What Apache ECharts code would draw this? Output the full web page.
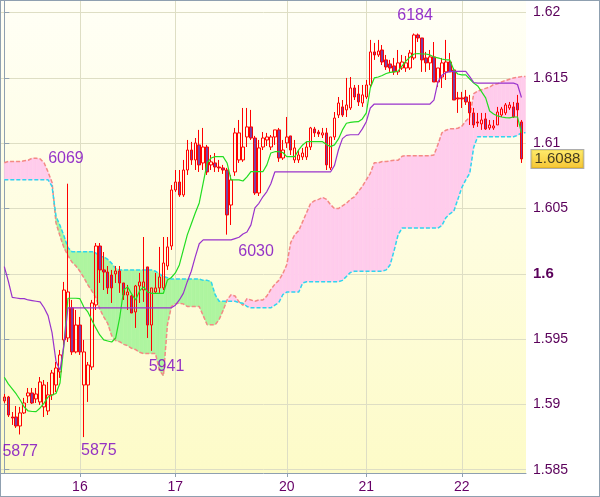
<!DOCTYPE html>
<html><head><meta charset="utf-8">
<script src="https://cdn.jsdelivr.net/npm/echarts@6/dist/echarts.min.js"></script>
<style>
html,body{margin:0;padding:0;background:#fff;}
#wrap{width:600px;height:497px;box-sizing:border-box;border:1px solid #8fa0b0;}
#c{width:598px;height:495px;}
</style></head><body><div id="wrap"><div id="c"></div></div>
<script>
// x-axis day ticks (candle index where each day starts) and their labels
const dayTickIndex = [19, 43, 71, 91, 115];
const dayLabels = ['16', '17', '20', '21', '22'];
// y-axis tick labels
const priceTicks = [1.585, 1.59, 1.595, 1.6, 1.605, 1.61, 1.615, 1.62];

// candles, in pips (price = 1 + pips/10000)
const openP = [
5902.7,5905.7,5890.4,5890.4,5883.5,5893.5,5906.5,5908.8,5904.2,5901.9,
5898.1,5895.0,5907.3,5914.9,5924.9,5949.4,5950.9,5973.9,5940.2,5960.8,
5914.9,5914.9,5928.7,5976.2,6021.3,6003.0,6001.4,5999.1,5999.9,6002.2,
5993.0,5983.8,5983.1,5970.8,5990.7,5987.6,6005.3,5960.8,5986.1,5989.2,
5989.2,6006.0,6021.3,6064.2,6070.3,6060.4,6079.5,6094.8,6087.2,6098.7,
6084.9,6097.1,6083.4,6084.9,6081.8,6081.1,6079.5,6052.7,6078.0,6087.2,
6087.2,6104.8,6112.5,6104.0,6061.9,6097.1,6102.5,6097.1,6104.8,6110.2,
6088.7,6100.2,6105.6,6087.2,6087.2,6089.5,6089.5,6097.1,6110.9,6108.6,
6106.3,6107.9,6081.1,6104.8,6121.6,6127.8,6125.5,6127.0,6142.3,6137.7,
6130.8,6135.4,6144.6,6169.9,6167.6,6171.4,6163.8,6160.7,6159.2,6154.6,
6157.6,6157.6,6157.6,6165.3,6182.9,6180.6,6165.3,6161.5,6166.1,6146.9,
6150.7,6154.6,6162.2,6156.1,6134.7,6134.7,6135.4,6131.6,6123.2,6116.3,
6114.8,6118.6,6111.7,6111.7,6114.0,6121.6,6123.2,6127.0,6127.8,6130.8,
6116.3];
const closeP = [
5905.7,5891.9,5889.6,5883.5,5893.5,5901.1,5908.8,5901.1,5908.0,5917.2,
5914.9,5907.3,5924.1,5927.9,5937.9,5987.6,5986.1,5940.2,5960.8,5940.2,
5940.2,5930.2,5977.7,6021.3,6003.0,6001.4,5989.2,5989.2,6002.2,5993.0,
5983.8,5986.1,5970.0,5990.7,5993.8,5993.8,5960.8,5989.2,5989.2,5997.6,
6008.3,6020.6,6064.2,6070.3,6060.4,6079.5,6094.8,6087.2,6100.2,6083.4,
6097.1,6078.0,6085.7,6081.8,6081.1,6079.5,6045.1,6071.9,6107.9,6107.9,
6097.1,6112.5,6104.0,6061.9,6096.4,6104.0,6104.8,6104.8,6110.2,6088.7,
6094.8,6104.8,6094.8,6096.4,6091.0,6092.5,6097.1,6111.7,6107.9,6107.1,
6107.9,6083.4,6104.8,6119.3,6130.8,6121.6,6129.3,6142.3,6135.4,6131.6,
6137.0,6144.6,6169.9,6167.6,6170.6,6162.2,6158.4,6157.6,6154.6,6161.5,
6162.2,6161.5,6169.1,6182.9,6180.6,6163.8,6161.5,6166.1,6146.9,6157.6,
6161.5,6162.2,6154.6,6133.1,6133.9,6133.9,6131.6,6123.2,6114.0,6115.5,
6117.8,6110.9,6114.0,6113.2,6123.9,6126.2,6129.3,6129.3,6120.1,6125.5,
6088.0];
const lowP = [
5901.1,5890.4,5884.3,5882.0,5877.0,5892.7,5901.1,5900.4,5901.1,5899.6,
5890.4,5891.9,5903.4,5909.5,5920.3,5945.5,5947.8,5937.9,5939.1,5937.9,
5875.0,5901.9,5926.4,5972.3,5993.0,5987.6,5984.6,5977.7,5993.0,5985.4,
5980.0,5972.3,5970.0,5958.6,5977.7,5978.5,5950.9,5941.0,5985.4,5985.4,
5987.6,6003.0,6018.3,6062.7,6058.9,6058.9,6075.7,6083.4,6079.5,6078.0,
6079.5,6075.7,6079.5,6078.0,6078.0,6076.5,6030.0,6037.4,6075.0,6084.9,
6085.7,6097.1,6102.5,6060.4,6059.6,6094.8,6097.9,6094.8,6098.7,6085.7,
6087.2,6096.4,6091.0,6084.9,6084.9,6087.2,6087.2,6094.8,6104.8,6104.8,
6104.0,6079.5,6079.5,6102.5,6119.3,6120.1,6120.1,6125.5,6133.1,6128.5,
6127.8,6133.9,6143.1,6163.8,6166.1,6159.9,6156.1,6154.6,6152.3,6152.3,
6156.1,6154.6,6156.1,6163.8,6177.5,6154.6,6154.6,6156.1,6146.9,6143.1,
6142.3,6148.4,6154.6,6133.1,6123.2,6127.0,6129.3,6114.0,6111.7,6112.5,
6110.2,6110.2,6110.2,6110.2,6114.0,6120.1,6121.6,6125.5,6119.3,6112.5,
6084.9];
const highP = [
5908.0,5906.5,5894.2,5898.8,5898.1,5905.0,5912.6,5912.6,5912.6,5921.0,
5918.7,5917.2,5926.4,5932.5,5941.7,5993.8,6069.0,5980.0,5972.3,5967.0,
5949.4,5932.5,5980.0,6023.6,6023.6,6016.7,6006.0,6003.0,6006.0,6006.0,
5993.0,5991.5,5983.8,5991.5,6000.7,6028.2,6005.3,5989.2,6000.7,6020.6,
6028.2,6028.2,6068.0,6079.5,6079.5,6087.2,6102.5,6101.0,6104.0,6110.2,
6111.7,6098.7,6091.0,6092.5,6087.2,6083.4,6081.1,6075.7,6111.7,6117.8,
6127.0,6127.0,6125.5,6105.6,6102.5,6108.6,6107.9,6106.3,6110.2,6111.7,
6102.5,6120.1,6105.6,6102.5,6094.8,6096.4,6101.0,6112.5,6112.5,6110.2,
6111.7,6111.7,6104.8,6123.9,6135.4,6133.1,6150.0,6150.7,6144.6,6144.6,
6144.6,6148.4,6179.1,6176.8,6179.1,6175.2,6167.6,6163.8,6165.3,6171.4,
6167.6,6166.8,6171.4,6184.0,6184.0,6180.6,6169.9,6171.4,6177.5,6157.6,
6165.3,6179.1,6169.1,6157.6,6139.3,6139.3,6140.8,6137.0,6127.0,6123.2,
6123.2,6123.2,6117.8,6117.8,6127.8,6127.8,6130.8,6131.6,6131.6,6137.0,
6117.8];

// Tenkan (green) and Kijun (purple), pips, one value per candle
const tenkan = [
5920.8,5915.7,5911.9,5908.0,5903.4,5898.0,5895.0,5894.6,5894.5,5897.3,
5901.0,5905.7,5907.2,5908.4,5916.4,5946.0,5981.3,5981.3,5981.3,5981.0,
5974.6,5970.8,5964.7,5958.6,5953.2,5949.4,5948.6,5947.8,5950.9,5966.2,
5987.6,5990.0,5984.6,5980.0,5986.9,5990.0,5986.1,5985.1,5985.1,5985.1,
5985.1,5995.3,5997.2,6000.7,6006.8,6018.3,6029.8,6038.2,6046.6,6054.3,
6069.6,6084.9,6088.7,6089.7,6089.7,6089.7,6084.9,6071.9,6071.9,6071.9,
6071.1,6074.2,6078.2,6078.2,6078.2,6078.2,6083.4,6092.5,6093.5,6093.5,
6092.9,6089.7,6089.7,6089.7,6094.9,6098.7,6101.2,6101.2,6101.2,6101.2,
6101.2,6099.0,6097.4,6098.7,6103.3,6110.2,6115.3,6115.9,6116.3,6116.5,
6118.6,6123.2,6142.3,6150.0,6150.7,6151.9,6153.4,6154.2,6154.6,6155.3,
6159.2,6163.0,6166.0,6168.3,6168.7,6168.3,6168.3,6167.6,6166.0,6165.3,
6164.5,6163.8,6163.8,6156.1,6153.0,6152.3,6152.3,6149.2,6146.1,6143.9,
6139.3,6134.7,6124.7,6122.4,6120.9,6120.1,6119.6,6119.4,6120.1,6120.1,
6107.9];
const kijun = [
6005.5,5994.5,5982.0,5981.5,5981.0,5981.0,5980.0,5979.5,5979.0,5978.5,
5974.0,5968.0,5955.0,5933.0,5926.0,5946.0,5974.0,5974.0,5974.0,5974.0,
5974.0,5974.0,5974.0,5974.0,5974.0,5974.0,5974.0,5974.0,5974.0,5974.0,
5974.0,5974.0,5974.0,5974.0,5974.0,5974.0,5974.0,5974.0,5974.0,5974.0,
5974.0,5974.0,5974.0,5976.0,5980.0,5985.0,5994.0,6002.0,6013.0,6023.0,
6026.0,6026.0,6026.0,6026.0,6026.0,6026.0,6026.0,6026.0,6027.0,6028.0,
6030.5,6032.0,6037.5,6050.5,6054.0,6059.0,6063.0,6069.0,6078.0,6078.0,
6078.0,6078.0,6078.0,6078.0,6078.0,6078.0,6078.0,6078.0,6078.0,6078.0,
6078.0,6078.0,6078.0,6083.0,6095.0,6103.5,6106.0,6106.5,6106.5,6106.5,
6111.0,6116.5,6127.0,6130.0,6130.0,6130.0,6130.0,6130.0,6130.0,6130.0,
6130.0,6130.0,6130.0,6130.0,6130.0,6130.0,6130.0,6130.0,6133.0,6147.0,
6152.0,6154.0,6155.0,6155.0,6155.0,6155.0,6155.0,6151.0,6146.5,6146.0,
6146.0,6146.0,6146.0,6146.0,6146.0,6146.0,6146.0,6146.0,6146.0,6145.0,
6135.0];

// Cloud spans (pips), index 0..131: senkouA = salmon dashed, senkouB = cyan dashed
const senkouA = [
6085,6086,6086,6086,6086,6086.5,6087,6088.5,6088.5,6088,
6085,6078,6070,6039,6029,6020,6014,6009,6006,6002,
5997,5991.5,5987,5982,5973,5967,5962,5952.5,5949,5948,
5946,5945,5943,5942,5940,5939,5939,5939,5939,5926,
5922,5961,5975,5977,5977.5,5977,5975,5975,5975,5975,
5968,5961,5961,5961,5965,5972,5980,5984,5983,5978.5,
5976,5981,5980,5979,5980,5980,5983,5988,5992,5995,
6000,6007,6024,6030,6033,6040,6047,6054,6056,6057,
6058.5,6057,6053,6050,6050,6052,6054,6057,6059,6063,
6067,6072,6077,6085,6085,6086,6086,6086.5,6087,6087,
6090,6090.5,6090.5,6090.5,6090.5,6090.5,6090.5,6090.5,6091,6099,
6108,6110,6111,6111,6111.5,6113,6117,6120,6138,6140,
6141,6142,6143,6145,6145.5,6147,6148,6149,6150,6150.5,
6151,6151];
const senkouB = [
6072,6072,6072,6072,6072,6072,6072,6072,6072,6072,
6072,6072,6067,6044,6037,6029,6020,6017,6017,6017,
6017,6017,6017,6016,6013,6013,6011,6008,6004,6003,
6003,6003,6003,6003,6003,6003,6003,6003,6002,6000,
5998,5997,5996,5996,5996,5996,5996,5996,5996,5996,
5995,5995,5994,5984,5979,5979,5979,5979,5979,5978,
5977.5,5975,5974,5974,5974,5974,5974,5974,5976,5978,
5984,5986,5986,5986,5986,5993,5994,5994,5994,5994,
5994,5994,5994,5994,5994,5995,5998,6001,6002,6002,
6002,6002,6002,6002,6002,6002,6003,6007,6018,6030,
6035,6035,6035,6035,6035,6035,6035,6035,6035,6035,
6037,6043,6046,6048,6057,6066,6072,6077,6097,6105,
6105,6105,6105,6105,6105,6105,6105,6105,6105,6106,
6108,6108];

// marked highs / lows: candle index and pip value
const extremeIdx = [4, 20, 16, 37, 56, 103];
const extremePips = [5877, 5875, 6069, 5941, 6030, 6184];

const P = v => 1 + v / 10000;
const candleData = openP.map((o, i) => [i, P(o), P(closeP[i]), P(lowP[i]), P(highP[i])]);
const line = arr => arr.map((v, i) => [i, P(v)]);
const cloudSegs = [];
for (let i = 0; i < senkouA.length - 1; i++) {
  cloudSegs.push([i, P(senkouA[i]), P(senkouB[i]), P(senkouA[i + 1]), P(senkouB[i + 1])]);
}
const lastIdx = closeP.length - 1;
const lastClose = P(closeP[lastIdx]);

const labelOffsets = [[0, 17], [15, 14], [-2, -25], [15, 16], [29, 17], [1, -18]];
const extremeData = extremeIdx.map((ix, k) => ({
  value: [ix, P(extremePips[k])],
  name: String(extremePips[k]),
  label: { offset: labelOffsets[k] }
}));

const PINK = '#ffccec', GREEN = '#aef5a0';
function cloudItem(params, api) {
  const x0 = api.value(0), x1 = x0 + 1;
  const a0 = api.value(1), b0 = api.value(2), a1 = api.value(3), b1 = api.value(4);
  const d0 = a0 - b0, d1 = a1 - b1;
  const poly = (xs, xe, ya0, yb0, ya1, yb1, color) => ({
    type: 'polygon',
    shape: { points: [api.coord([xs, ya0]), api.coord([xe, ya1]), api.coord([xe, yb1]), api.coord([xs, yb0])] },
    style: { fill: color, stroke: color, lineWidth: 0.6 }
  });
  const children = [];
  if (d0 * d1 >= 0) {
    children.push(poly(x0, x1, a0, b0, a1, b1, (d0 + d1) >= 0 ? PINK : GREEN));
  } else {
    const t = d0 / (d0 - d1);
    const xm = x0 + t, ym = a0 + t * (a1 - a0);
    children.push(poly(x0, xm, a0, b0, ym, ym, d0 > 0 ? PINK : GREEN));
    children.push(poly(xm, x1, ym, ym, a1, b1, d1 > 0 ? PINK : GREEN));
  }
  return { type: 'group', children };
}

const chart = echarts.init(document.getElementById('c'), null, { renderer: 'canvas' });
const AX = '#8fa0b0';
chart.setOption({
  animation: false,
  backgroundColor: '#ffffff',
  grid: {
    left: 0, right: 73, top: 0, bottom: 23, show: true, borderWidth: 0,
    backgroundColor: new echarts.graphic.LinearGradient(0, 0, 0, 1, [
      { offset: 0, color: '#fffff6' }, { offset: 1, color: '#fdfbc8' }])
  },
  xAxis: {
    type: 'value', min: -0.83, max: 131.14,
    axisLine: { show: true, lineStyle: { color: AX } },
    axisTick: { show: true, length: 4, customValues: dayTickIndex, lineStyle: { color: AX } },
    axisLabel: {
      customValues: dayTickIndex, margin: 7, color: '#660066', fontSize: 14,
      fontFamily: 'Liberation Sans',
      formatter: v => dayLabels[dayTickIndex.indexOf(Math.round(v))]
    },
    splitLine: { show: true, lineStyle: { color: '#dedec4' } }
  },
  yAxis: {
    type: 'value', position: 'right', min: 1.58475, max: 1.62089, scale: true,
    axisLine: { show: true, lineStyle: { color: AX } },
    axisTick: { show: true, length: 5, customValues: priceTicks, lineStyle: { color: AX } },
    axisLabel: {
      customValues: priceTicks, margin: 7, color: '#5a005a', fontSize: 14,
      fontFamily: 'Liberation Sans',
      formatter: v => {
        const s = String(parseFloat(v.toFixed(4)));
        return Math.abs(v - 1.6) < 1e-9 ? '{b|' + s + '}' : s;
      },
      rich: { b: { fontWeight: 'bold', fontSize: 15, color: '#5a005a', fontFamily: 'Liberation Sans' } }
    },
    splitLine: { show: true, lineStyle: { color: '#dedec4' } }
  },
  series: [
    { type: 'custom', data: cloudSegs, renderItem: cloudItem, encode: { x: 0, y: [1, 2, 3, 4] }, clip: true, z: 1, silent: true },
    { type: 'line', data: line(senkouA), symbol: 'none', z: 2,
      lineStyle: { color: '#f48a84', width: 1.5, type: [4, 2] } },
    { type: 'line', data: line(senkouB), symbol: 'none', z: 2,
      lineStyle: { color: '#2fd6ee', width: 1.5, type: [4, 2] } },
    {
      type: 'candlestick', data: candleData, encode: { x: 0, y: [1, 2, 3, 4] },
      barWidth: 3, z: 3,
      itemStyle: { color: 'rgba(0,0,0,0)', color0: '#7d3fa0', borderColor: '#ff0000', borderColor0: '#ff0000', borderWidth: 1 }
    },
    { type: 'line', data: line(tenkan), symbol: 'none', z: 4, lineStyle: { color: '#22dd22', width: 1.2 } },
    { type: 'line', data: line(kijun), symbol: 'none', z: 4, lineStyle: { color: '#9933cc', width: 1.2 } },
    {
      type: 'scatter', data: extremeData, symbolSize: 0, z: 5, silent: true,
      label: { show: true, position: 'inside', formatter: p => p.name, color: '#7a00c0', fontSize: 16, fontFamily: 'Liberation Sans' }
    },
    {
      type: 'scatter', data: [[lastIdx, lastClose]], symbolSize: 0, z: 6, silent: true, clip: false,
      label: {
        show: true, position: 'right', distance: 10,
        formatter: () => lastClose.toFixed(4),
        color: '#111', fontSize: 15, fontFamily: 'Liberation Sans',
        padding: [2, 3, 1, 3], borderColor: '#999999', borderWidth: 1,
        backgroundColor: new echarts.graphic.LinearGradient(0, 0, 0, 1, [
          { offset: 0, color: '#ffe84a' }, { offset: 1, color: '#f2b600' }])
      }
    }
  ]
});
</script></body></html>
